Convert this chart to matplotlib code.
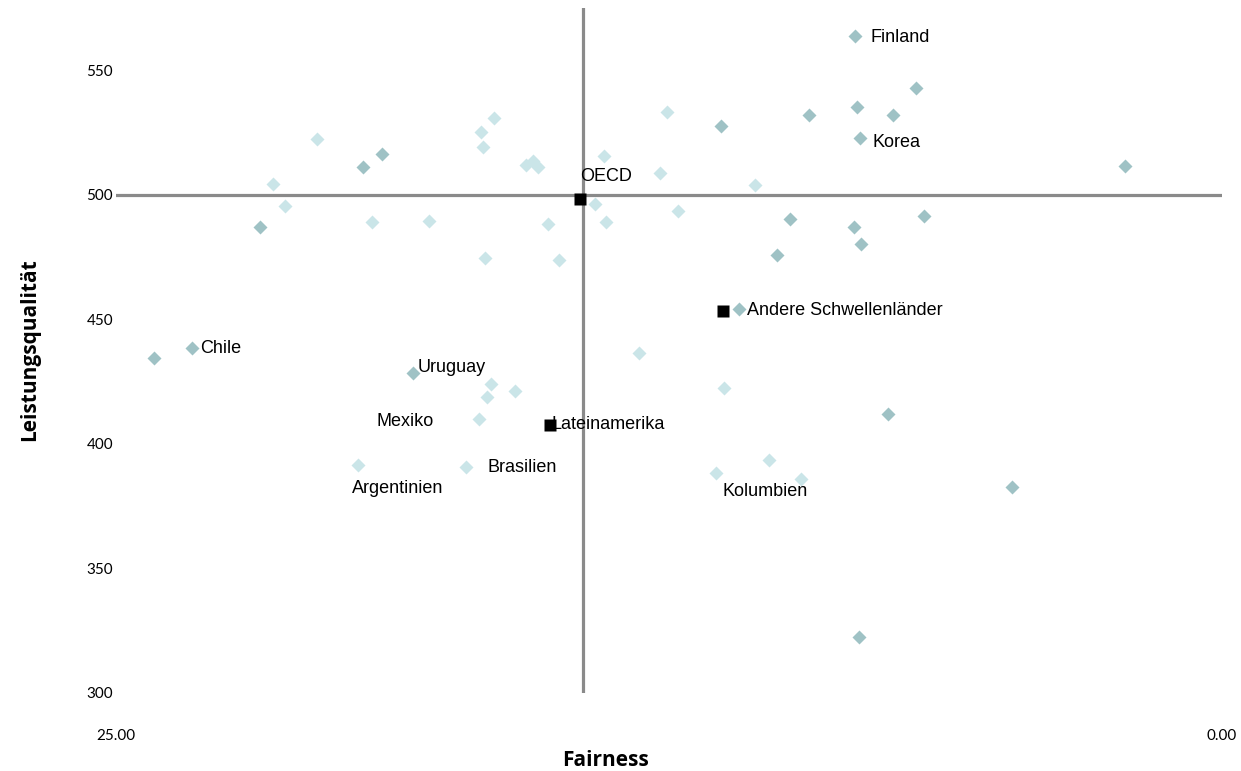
import matplotlib
matplotlib.use("Agg")
import matplotlib.pyplot as plt

# ---- data ----
# darker group (high-performing / OECD-type countries)
dark_x = [8.30, 6.92, 8.25, 9.34, 7.44, 11.32, 8.18, 2.19, 18.99, 19.42, 21.75, 9.76,
          6.74, 8.32, 8.16, 10.06, 10.92, 23.28, 24.14, 18.29, 7.55, 4.75, 8.21]
dark_y = [563.7, 542.8, 535.1, 531.9, 531.9, 527.5, 522.7, 511.4, 516.2, 511.0, 486.9, 490.1,
          491.3, 486.9, 480.1, 476.0, 454.3, 438.7, 434.6, 428.6, 412.1, 382.8, 322.5]
dark_names = ["Finland", "", "", "", "", "", "Korea", "", "", "", "", "",
              "", "", "", "", "Andere Schwellenländer", "Chile", "", "Uruguay", "", "", ""]

# lighter group
light_x = [16.46, 16.76, 16.70, 20.46, 15.73, 15.57, 15.45, 21.44, 21.18, 19.22, 17.92, 15.23,
           16.66, 14.98, 14.17, 12.55, 13.97, 12.70, 10.56, 12.30, 13.92, 13.18, 11.26, 10.24,
           11.44, 9.52, 16.53, 15.97, 16.62, 16.79, 19.52, 17.09]
light_y = [530.7, 525.2, 519.2, 522.5, 511.9, 513.6, 511.1, 504.3, 495.5, 488.9, 489.3, 488.2,
           474.7, 473.8, 496.3, 533.1, 515.4, 508.6, 503.8, 493.7, 488.9, 436.3, 422.6, 393.6,
           388.4, 386.0, 424.2, 421.4, 418.7, 410.0, 391.6, 390.6]
light_names = [""] * 24 + ["Kolumbien", "", "", "", "", "Mexiko", "Argentinien", "Brasilien"]

# group averages
avg_names = ["OECD", "Lateinamerika", "Andere Schwellenländer (Mittel)"]
avg_x = [14.51, 15.19, 11.28]
avg_y = [498.2, 407.7, 453.5]

cross_x = 14.45
cross_y = 500

# ---- styles ----
DARK = "#9fc2c5"
LIGHT = "#cae5e8"
LINE = "#8a8a8a"

label_offsets = {
    "Finland": (16, -1, "left"),
    "Korea": (12, -4, "left"),
    "Chile": (8, -1, "left"),
    "Uruguay": (5, 5, "left"),
    "Andere Schwellenländer": (8, -2, "left"),
    "Mexiko": (-45, -2, "right"),
    "Argentinien": (-6, -24, "left"),
    "Brasilien": (22, 0, "left"),
    "Kolumbien": (7, -19, "left"),
    "OECD": (0, 23, "left"),
    "Lateinamerika": (2, 0, "left"),
}

fig = plt.figure(figsize=(12.41, 7.71), dpi=100)
ax = fig.add_axes([116 / 1241, 1 - 693 / 771, (1222 - 116) / 1241, (693 - 8) / 771])

ax.set_xlim(25, 0)
ax.set_ylim(300, 575)

ax.axvline(cross_x, color=LINE, lw=2.3, zorder=1)
ax.axhline(cross_y, color=LINE, lw=2.3, zorder=1)

ax.plot(light_x, light_y, ls="none", marker="D", ms=7.3, color=LIGHT, mec="none", zorder=2)
ax.plot(dark_x, dark_y, ls="none", marker="D", ms=7.3, color=DARK, mec="none", zorder=3)
ax.plot(avg_x, avg_y, ls="none", marker="s", ms=8.3, color="black", mec="none", zorder=4)

txt_kw = dict(fontsize=13, family=["Liberation Sans", "DejaVu Sans"], color="black",
              textcoords="offset pixels", va="center", zorder=5)
for xs, ys, names in [(dark_x, dark_y, dark_names), (light_x, light_y, light_names),
                      (avg_x, avg_y, avg_names)]:
    for x, y, n in zip(xs, ys, names):
        if n in label_offsets:
            dx, dy, ha = label_offsets[n]
            ax.annotate(n, (x, y), xytext=(dx, dy), ha=ha, **txt_kw)

for s in ax.spines.values():
    s.set_visible(False)

ax.set_yticks([300, 350, 400, 450, 500, 550])
ax.set_yticklabels(["300", "350", "400", "450", "500", "550"])
ax.set_xticks([25, 0])
ax.set_xticklabels(["25.00", "0.00"])
ax.tick_params(axis="both", length=0, labelsize=11, labelcolor="black")
ax.tick_params(axis="y", pad=2)
ax.tick_params(axis="x", pad=26)
for lab in ax.get_xticklabels() + ax.get_yticklabels():
    lab.set_family(["Lato", "DejaVu Sans"])

fig.text(605 / 1241, 1 - 760 / 771, "Fairness", ha="center", va="center",
         fontsize=15, fontweight="bold", family=["Open Sans", "DejaVu Sans"])
fig.text(30 / 1241, 1 - 350 / 771, "Leistungsqualität", ha="center", va="center",
         rotation=90, fontsize=15, fontweight="bold", family=["Open Sans", "DejaVu Sans"])

fig.savefig("out.png", dpi=100)
